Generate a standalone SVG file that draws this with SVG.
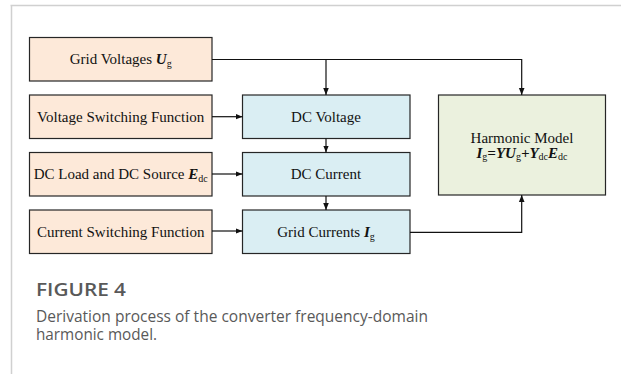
<svg xmlns="http://www.w3.org/2000/svg" width="621" height="374" viewBox="0 0 621 374">
<style>
.b{stroke:#262626;stroke-width:1.2}
.o{fill:#FDE9D9}
.c{fill:#DAEEF3}
.g{fill:#EBF1DE}
.t{font-family:"Liberation Serif",serif;font-size:15px;fill:#111;text-anchor:middle}
.s{font-size:10px}
.i{font-weight:bold;font-style:italic}
.l{fill:none;stroke:#111;stroke-width:1.2}
.cap{font-family:"Open Sans",sans-serif;fill:#595959}
</style>
<defs>
<marker id="a" viewBox="0 0 10 10" refX="10" refY="5" markerWidth="7" markerHeight="7" markerUnits="userSpaceOnUse" orient="auto"><path d="M0,1 L10,5 L0,9 Z" fill="#111"/></marker>
</defs>
<rect width="621" height="374" fill="#fff"/>
<path d="M10.5,5.5 H621 M11.5,5 V374" stroke="#d0d0d0" stroke-width="1.5" fill="none"/>
<g id="grid-voltages"><rect class="b o" x="29.5" y="37.5" width="182.5" height="43.5"/><text class="t" x="120.7" y="64">Grid Voltages <tspan class="i">U</tspan><tspan class="s" dy="3">g</tspan></text></g>
<g id="voltage-switching"><rect class="b o" x="29.5" y="95" width="182.5" height="43.5"/><text class="t" x="120.7" y="121.5">Voltage Switching Function</text></g>
<g id="dc-load"><rect class="b o" x="29.5" y="152.5" width="182.5" height="43.5"/><text class="t" x="120.7" y="179">DC Load and DC Source <tspan class="i">E</tspan><tspan class="s" dy="3">dc</tspan></text></g>
<g id="current-switching"><rect class="b o" x="29.5" y="210" width="182.5" height="43.5"/><text class="t" x="120.7" y="236.5">Current Switching Function</text></g>
<g id="dc-voltage"><rect class="b c" x="242.5" y="95" width="167.5" height="43.5"/><text class="t" x="326" y="121.5">DC Voltage</text></g>
<g id="dc-current"><rect class="b c" x="242.5" y="152.5" width="167.5" height="43.5"/><text class="t" x="326" y="179">DC Current</text></g>
<g id="grid-currents"><rect class="b c" x="242.5" y="210" width="167.5" height="43.5"/><text class="t" x="326" y="236.5">Grid Currents <tspan class="i">I</tspan><tspan class="s" dy="3">g</tspan></text></g>
<g id="harmonic-model"><rect class="b g" x="438.5" y="95" width="167" height="100"/><text class="t" x="522" y="142.5">Harmonic Model</text><text class="t" x="522" y="158"><tspan class="i">I</tspan><tspan class="s" dy="2">g</tspan><tspan class="i" dy="-2">=YU</tspan><tspan class="s" dy="2">g</tspan><tspan class="i" dy="-2">+Y</tspan><tspan class="s" dy="2">dc</tspan><tspan class="i" dy="-2">E</tspan><tspan class="s" dy="2">dc</tspan></text></g>
<g id="connectors">
<path class="l" d="M212,59.5 H521.7 V95" marker-end="url(#a)"/>
<path class="l" d="M326,59.5 V95" marker-end="url(#a)"/>
<path class="l" d="M212,116.7 H242.5" marker-end="url(#a)"/>
<path class="l" d="M212,174 H242.5" marker-end="url(#a)"/>
<path class="l" d="M212,231 H242.5" marker-end="url(#a)"/>
<path class="l" d="M326,138.5 V152.5" marker-end="url(#a)"/>
<path class="l" d="M326,196 V210" marker-end="url(#a)"/>
<path class="l" d="M410,232.3 H521.7 V195" marker-end="url(#a)"/>
</g>
<text class="cap" x="36" y="295.5" font-size="17.5" font-weight="600" textLength="90" lengthAdjust="spacingAndGlyphs">FIGURE 4</text>
<text class="cap" x="36" y="321.5" font-size="17" textLength="392" lengthAdjust="spacingAndGlyphs">Derivation process of the converter frequency-domain</text>
<text class="cap" x="36" y="340" font-size="17" textLength="121" lengthAdjust="spacingAndGlyphs">harmonic model.</text>
</svg>
